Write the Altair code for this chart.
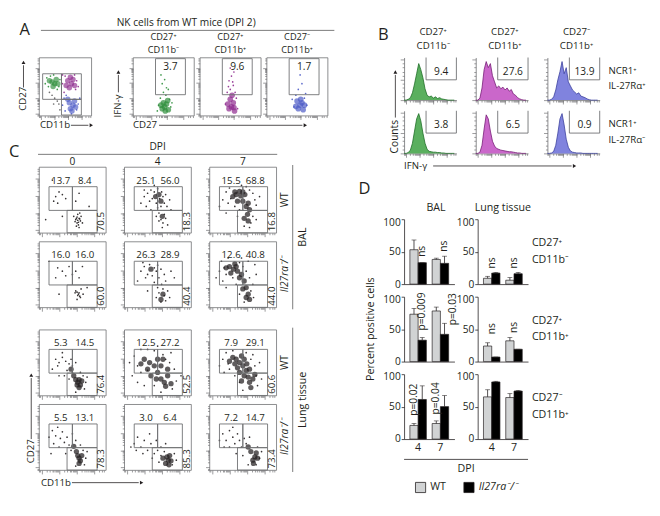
import altair as alt
import numpy as np
import pandas as pd

FONT = "Open Sans"
INK = "#231f20"
FRAME = "#6d6e71"

# ---------------- shared labels ----------------
SUBSET_TOP = ["CD27⁺", "CD27⁺", "CD27⁻"]
SUBSET_BOT = ["CD11b⁻", "CD11b⁺", "CD11b⁺"]
SUBSET_COLORS = ["#2f8f3c", "#8e2a8e", "#4d5bc6"]
SUBSET_FILLS = ["#48a64c", "#c457c4", "#7276da"]
SUBSET_LINES = ["#1d6b24", "#741b74", "#3a3f9c"]

# ---------------- Panel A ----------------
A_TITLE = "NK cells from WT mice (DPI 2)"
A_P1_GATES = [[7, 43, 28, 72], [43, 81, 28, 72], [43, 81, 1, 28]]
A_P1_CORES = [
    [(25, 58), (30, 55), (20, 60), (33, 62), (27, 50), (36, 55)],
    [(55, 60), (62, 55), (58, 48), (65, 62), (52, 52), (60, 66), (68, 52)],
    [(58, 22), (65, 18), (60, 12), (68, 25), (55, 28), (63, 8), (70, 15)],
]
A_P1_DOTS = [
    [(12, 55), (15, 65), (18, 50), (38, 50), (40, 62), (22, 68), (35, 45), (28, 70)],
    [(45, 70), (72, 60), (75, 50), (48, 40), (70, 45), (50, 68), (68, 70), (45, 55)],
    [(48, 30), (75, 20), (72, 10), (50, 8), (45, 18), (78, 30), (62, 3), (52, 35)],
]
A_P1_GREY = [(25, 35), (30, 30), (35, 25), (20, 40), (38, 20), (28, 20), (40, 10)]
A_IFN_GATE = [37, 86, 36, 98]
A_IFN_PCT = [3.7, 9.6, 1.7]
A_IFN_CORES = [
    [(52, 15), (55, 20), (48, 12), (58, 10), (50, 22), (53, 8), (46, 18), (57, 26)],
    [(52, 15), (55, 22), (48, 12), (57, 8), (50, 28), (53, 35), (46, 20), (56, 14)],
    [(55, 18), (58, 22), (52, 12), (60, 10), (56, 28), (50, 25), (48, 16), (62, 18)],
]
A_IFN_DOTS = [
    [(45, 30), (60, 28), (42, 18), (62, 15), (50, 40), (55, 48), (48, 55), (52, 62), (58, 45), (46, 70), (54, 35), (40, 8), (64, 22)],
    [(50, 45), (55, 52), (48, 60), (52, 68), (56, 75), (45, 40), (58, 40), (60, 30), (42, 20), (62, 12), (50, 82), (54, 58), (47, 50)],
    [(48, 35), (62, 30), (45, 15), (66, 18), (52, 45), (58, 55), (55, 70), (64, 38), (42, 28)],
]

# ---------------- Panel B ----------------
B_ROW_TOP = ["NCR1⁺", "NCR1⁺"]
B_ROW_BOT = ["IL-27Rα⁺", "IL-27Rα⁻"]
B_PCT = [[9.4, 27.6, 13.9], [3.8, 6.5, 0.9]]
B_BINS = [0, 4, 8, 12, 16, 20, 24, 28, 32, 36, 40, 44, 48, 52, 56, 60, 64, 68, 72, 76, 80, 84, 88, 92, 96]
B_COUNTS = [
    [
        [0, 0, 2, 6, 18, 40, 65, 90, 75, 55, 28, 12, 8, 10, 5, 8, 4, 6, 3, 2, 1, 0, 0, 0, 0],
        [0, 0, 5, 30, 75, 95, 80, 90, 60, 45, 30, 35, 28, 32, 25, 30, 22, 26, 15, 12, 6, 3, 1, 0, 0],
        [0, 0, 2, 8, 25, 50, 70, 95, 65, 80, 45, 35, 25, 20, 15, 18, 10, 8, 6, 3, 1, 0, 0, 0, 0],
    ],
    [
        [0, 0, 2, 8, 25, 55, 85, 98, 80, 50, 25, 10, 5, 4, 3, 3, 2, 2, 1, 1, 0, 0, 0, 0, 0],
        [0, 0, 3, 20, 60, 95, 85, 55, 30, 18, 12, 10, 8, 7, 6, 5, 4, 4, 3, 2, 1, 1, 0, 0, 0],
        [0, 0, 1, 5, 20, 50, 85, 98, 70, 35, 15, 6, 3, 2, 1, 1, 1, 0, 0, 0, 0, 0, 0, 0, 0],
    ],
]
B_GATE = [42, 100, 50]  # left edge, right edge, lower edge

# ---------------- Panel C ----------------
C_DPI = ["0", "4", "7"]
C_GENO = ["WT", "Il27ra⁻/⁻"]
C_TISSUE = ["BAL", "Lung tissue"]
C_GATES = [[15, 50, 34, 70], [50, 87, 34, 70], [42, 87, 0, 34]]
C_UL = [[13.7, 25.1, 15.5], [16.0, 26.3, 12.6], [5.3, 12.5, 7.9], [5.5, 3.0, 7.2]]
C_UR = [[8.4, 56.0, 68.8], [16.0, 28.9, 40.8], [14.5, 27.2, 29.1], [13.1, 6.4, 14.7]]
C_LR = [[70.5, 18.3, 16.8], [60.0, 40.4, 44.0], [76.4, 52.5, 60.6], [78.3, 85.3, 73.4]]
C_CORES = [
    [[],
     [(47, 55), (52, 58), (55, 48), (57, 25)],
     [(40, 58), (47, 56), (53, 58), (50, 48), (55, 40), (57, 28), (58, 18), (45, 63), (35, 55),
      (42, 48), (50, 62), (58, 45), (52, 22), (38, 62), (60, 35)]],
    [[],
     [(40, 58), (58, 20), (55, 12)],
     [(30, 62), (36, 58), (42, 55), (48, 50), (52, 40), (55, 30), (58, 20), (60, 12), (38, 66),
      (25, 60), (32, 52), (45, 45), (50, 28), (55, 15), (40, 62)]],
    [[(58, 20), (62, 16), (60, 12), (55, 24), (64, 22), (52, 30), (48, 40), (60, 24), (57, 16)],
     [(60, 20), (55, 25), (62, 14), (50, 35), (45, 45), (38, 50), (55, 45), (30, 55), (65, 30), (40, 30),
      (50, 55), (70, 18), (48, 25), (35, 40), (58, 55), (25, 48), (65, 40)],
     [(40, 55), (45, 50), (50, 45), (55, 38), (58, 28), (60, 20), (62, 12), (48, 60), (35, 58), (52, 30),
      (56, 48), (42, 42), (65, 25), (38, 48), (45, 35), (60, 40), (52, 55), (48, 22), (68, 32), (30, 52)]],
    [[(60, 18), (62, 14), (58, 22), (56, 28), (64, 22), (52, 36), (60, 10)],
     [(66, 15), (70, 14), (64, 20), (68, 22), (62, 10), (58, 18), (67, 8)],
     [(68, 20), (65, 15), (70, 26), (62, 28), (66, 10), (58, 35), (72, 18)]],
]
C_DOTS = [
    [[(25, 55), (30, 62), (22, 48), (35, 58), (40, 52), (28, 45), (55, 48), (60, 60), (52, 25), (55, 20), (57, 15), (60, 22), (58, 28), (62, 18), (56, 10), (63, 25), (59, 12), (54, 17), (61, 30), (65, 15), (57, 24), (60, 8), (10, 20), (35, 25), (75, 40), (20, 80), (58, 19), (61, 21), (56, 22), (59, 16)],
     [(30, 55), (35, 60), (40, 65), (38, 48), (42, 52), (45, 62), (48, 45), (50, 67), (53, 52), (56, 62), (58, 55), (60, 45), (62, 58), (55, 40), (50, 38), (52, 30), (55, 20), (58, 15), (60, 28), (62, 22), (65, 12), (57, 8), (52, 18), (48, 25), (25, 45), (33, 40), (68, 50), (70, 35), (45, 72), (40, 35), (30, 65), (64, 40)],
     [(20, 50), (25, 62), (28, 45), (30, 68), (32, 52), (65, 60), (68, 50), (70, 42), (62, 15), (65, 25), (52, 10), (60, 8), (45, 35), (38, 40), (48, 72), (55, 70), (25, 30), (42, 25), (70, 20), (75, 55), (15, 40), (60, 65)]],
    [[(28, 60), (35, 55), (40, 48), (25, 45), (45, 62), (55, 55), (60, 45), (65, 62), (50, 50), (55, 25), (58, 18), (60, 22), (62, 15), (57, 12), (63, 28), (59, 20), (66, 20), (54, 22), (30, 20), (72, 30), (15, 70), (61, 17), (57, 23)],
     [(25, 55), (30, 62), (35, 50), (38, 65), (42, 48), (45, 60), (48, 55), (50, 64), (52, 45), (32, 45), (28, 68), (55, 58), (60, 50), (62, 40), (56, 35), (58, 28), (60, 18), (62, 10), (55, 8), (52, 22), (65, 25), (68, 15), (50, 30), (45, 38), (70, 55), (20, 40), (35, 25), (75, 45), (48, 15)],
     [(15, 55), (18, 70), (22, 60), (25, 50), (20, 40), (28, 75), (45, 68), (50, 62), (55, 55), (60, 45), (65, 35), (62, 25), (66, 15), (52, 8), (45, 20), (40, 35), (35, 45), (70, 50), (25, 30), (68, 65), (48, 75), (10, 45), (58, 70)]],
    [[(25, 55), (30, 50), (35, 58), (28, 45), (40, 52), (45, 48), (42, 38), (38, 30), (50, 45), (55, 50), (50, 35), (45, 25), (66, 30), (70, 20), (68, 10), (55, 5), (62, 35), (30, 30), (20, 40), (35, 65), (72, 28), (48, 55)],
     [(15, 60), (20, 45), (12, 30), (20, 20), (25, 70), (35, 70), (45, 68), (58, 62), (68, 50), (75, 40), (78, 22), (72, 10), (55, 5), (45, 15), (30, 15), (25, 35), (35, 38), (70, 65), (85, 30), (8, 50), (50, 75), (62, 55)],
     [(20, 55), (25, 65), (28, 48), (30, 40), (35, 68), (55, 65), (62, 55), (68, 45), (70, 30), (72, 15), (50, 8), (45, 20), (38, 30), (75, 50), (22, 35), (65, 62), (15, 45), (78, 25)]],
    [[(20, 60), (25, 52), (28, 65), (32, 48), (35, 58), (38, 42), (42, 50), (45, 38), (48, 30), (30, 35), (22, 40), (55, 45), (50, 55), (66, 30), (70, 18), (68, 8), (55, 6), (62, 38), (18, 25), (40, 25), (72, 28), (15, 50)],
     [(15, 40), (20, 50), (25, 35), (30, 45), (35, 30), (40, 40), (45, 25), (50, 30), (55, 22), (28, 25), (18, 30), (38, 55), (48, 45), (55, 35), (72, 8), (75, 25), (60, 28), (52, 12), (10, 35), (42, 18), (62, 40), (78, 15)],
     [(20, 55), (25, 45), (30, 60), (35, 50), (38, 40), (42, 55), (45, 45), (48, 35), (52, 48), (55, 40), (30, 35), (22, 35), (60, 50), (72, 35), (75, 18), (70, 8), (58, 8), (40, 25), (50, 22), (15, 45), (78, 28), (35, 65)]],
]

# ---------------- Panel D ----------------
D_DPI = ["4", "7"]
D_GENO = ["WT", "Il27ra⁻/⁻"]
D_FILLS = ["#d1d3d4", "#000000"]
D_TISSUE = ["BAL", "Lung tissue"]
D_WT = [[[53, 38], [9, 6]], [[73, 78], [24, 32]], [[21, 24], [65, 64]]]
D_WT_ERR = [[[68, 40], [12, 10]], [[82, 84], [29, 37]], [[24, 28], [76, 70]]]
D_KO = [[[33, 32], [17, 16]], [[33, 42], [7, 19]], [[61, 50], [88, 74]]]
D_KO_ERR = [[[33, 43], [18, 18]], [[37, 59], [7, 19]], [[82, 67], [89, 75]]]
D_NOTES = [
    [[("4", "KO", 42, "ns"), ("7", "KO", 50, "ns")], [("4", "mid", 24, "ns"), ("7", "mid", 24, "ns")]],
    [[("4", "KO", 48, "p=0.009"), ("7", "right", 56, "p=0.03")], [("4", "mid", 42, "ns"), ("7", "mid", 44, "ns")]],
    [[("4", "WT", 36, "p=0.02"), ("7", "WT", 38, "p=0.04")], []],
]

# ---------------- helpers ----------------
DUMMY = pd.DataFrame({"k": [0]})
FRAME_VIEW = alt.ViewBackground(stroke=FRAME, strokeWidth=0.8)
NO_VIEW = alt.ViewBackground(stroke=None)

FLOW_MAJOR = [4, 30, 56, 82]
FLOW_TICKS = sorted(set([0.0, 2.0] + [round(m + 26 * np.log10(k), 1)
                                      for m in FLOW_MAJOR for k in range(1, 10)
                                      if m + 26 * np.log10(k) <= 100]))
FLOW_TEST = "indexof([4, 30, 56, 82], datum.value) >= 0"
FLOW_SCALE = alt.Scale(domain=[0, 100], nice=False, zero=False)
FLOW_AXIS = alt.Axis(values=FLOW_TICKS, labels=False, title=None, grid=False, domain=False,
                     tickColor=FRAME, tickWidth=0.7,
                     tickSize={"condition": {"test": FLOW_TEST, "value": 4}, "value": 2})


def fx(f):
    return alt.X(f"{f}:Q", scale=FLOW_SCALE, axis=FLOW_AXIS)


def fy(f):
    return alt.Y(f"{f}:Q", scale=FLOW_SCALE, axis=FLOW_AXIS)


def txt(text, x, y, size=10, angle=None, align="center", baseline="middle",
        style="normal", color=INK):
    kw = dict(text=text, font=FONT, fontSize=size, color=color, align=align,
              baseline=baseline, fontStyle=style)
    if angle is not None:
        kw["angle"] = angle
    return alt.Chart(DUMMY).mark_text(**kw).encode(x=alt.value(x), y=alt.value(y))


def hline(x1, x2, y, color=INK, w=0.8):
    return alt.Chart(DUMMY).mark_rule(color=color, strokeWidth=w).encode(
        x=alt.value(x1), x2=alt.value(x2), y=alt.value(y))


def vline(x, y1, y2, color=INK, w=0.8):
    return alt.Chart(DUMMY).mark_rule(color=color, strokeWidth=w).encode(
        x=alt.value(x), y=alt.value(y1), y2=alt.value(y2))


def tri(x, y, shape):
    return alt.Chart(DUMMY).mark_point(shape=shape, filled=True, size=16, color=INK, opacity=1).encode(
        x=alt.value(x), y=alt.value(y))


def arrow_right(x1, x2, y):
    return [hline(x1, x2 - 3, y), tri(x2, y, "triangle-right")]


def arrow_up(x, y1, y2):
    return [vline(x, y1, y2 + 3), tri(x, y2, "triangle-up")]


def anchor(x1, y1, x2, y2):
    # invisible panel frame: fixes each panel's extent for the concat layout
    return alt.Chart(DUMMY).mark_rect(fillOpacity=0, strokeOpacity=0, strokeWidth=0).encode(
        x=alt.value(x1), x2=alt.value(x2), y=alt.value(y1), y2=alt.value(y2))


def spacer(w, h):
    return alt.Chart(DUMMY).mark_point(opacity=0).encode(
        x=alt.value(0), y=alt.value(0)).properties(width=w, height=h, view=NO_VIEW)


def cloud(pts, color, size, opacity):
    df = pd.DataFrame(pts, columns=["x", "y"])
    return alt.Chart(df).mark_circle(size=size, opacity=opacity, color=color).encode(
        x=fx("x"), y=fy("y"))


def gates(g):
    df = pd.DataFrame(g, columns=["x1", "x2", "y1", "y2"])
    return alt.Chart(df).mark_rect(fillOpacity=0, stroke=FRAME, strokeWidth=0.9).encode(
        x=fx("x1"), x2="x2", y=fy("y1"), y2="y2")


def numbers(df, size=10, **kw):
    return alt.Chart(df).mark_text(font=FONT, fontSize=size, color=INK, **kw).encode(
        x=fx("x"), y=fy("y"), text="t:N")


# ---------------- Panel A ----------------
AW1, AW, AH = 54, 63, 60


def a_p1():
    L = []
    for k in range(3):
        L.append(cloud(A_P1_CORES[k], SUBSET_COLORS[k], 32, 0.65))
    L.append(cloud(A_P1_GREY, "#4d4d4d", 3, 0.8))
    for k in range(3):
        L.append(cloud(A_P1_DOTS[k], SUBSET_COLORS[k], 3, 0.9))
    L.append(gates(A_P1_GATES))
    L += [txt("A", -20, -28, size=17, align="left"),
          txt(A_TITLE, 152, -36, size=10.5), hline(2, 305, -28, color="#555555")]
    L += [txt("CD27", -16, 55, angle=270, align="left")] + arrow_up(-16, 31, 5)
    L += [txt("CD11b", 1, 70, align="left")] + arrow_right(33, 54, 70)
    L.append(anchor(-20, -42, 310, 76))
    return alt.layer(*L).properties(width=AW1, height=AH, view=FRAME_VIEW)


def a_ifn(k):
    g = A_IFN_GATE
    L = [cloud(A_IFN_CORES[k], SUBSET_COLORS[k], 34, 0.7),
         cloud(A_IFN_DOTS[k], SUBSET_COLORS[k], 3, 0.9), gates([g])]
    ndf = pd.DataFrame({"x": [(g[0] + g[1]) / 2], "y": [g[3]], "t": [f"{A_IFN_PCT[k]:.1f}"]})
    L.append(numbers(ndf, size=10.5, baseline="top", dy=4))
    L += [txt(SUBSET_TOP[k], AW / 2, -21, size=9.5), txt(SUBSET_BOT[k], AW / 2, -8, size=9.5)]
    if k == 0:
        L += [txt("IFN-γ", -15, 62, angle=270, align="left")] + arrow_up(-15, 36, 15)
        L += [txt("CD27", 0, 70, align="left")] + arrow_right(27, 178, 70)
    return alt.layer(*L).properties(width=AW, height=AH, view=FRAME_VIEW)


panel_a = alt.hconcat(a_p1(), spacer(31, AH), a_ifn(0), a_ifn(1), a_ifn(2),
                      spacing=6, bounds="flush")

# ---------------- Panel C ----------------
CW, CH, CRS, CCS = 69, 68, 9, 19


def c_cell(r, c):
    ul, ur, lr = C_GATES
    L = []
    if C_CORES[r][c]:
        L.append(cloud(C_CORES[r][c], INK, 30, 0.72))
    L.append(cloud(C_DOTS[r][c], INK, 3, 0.9))
    L.append(gates(C_GATES))
    top = pd.DataFrame({"x": [(ul[0] + ul[1]) / 2, (ur[0] + ur[1]) / 2], "y": [ul[3], ur[3]],
                        "t": [f"{C_UL[r][c]:.1f}", f"{C_UR[r][c]:.1f}"]})
    L.append(numbers(top, baseline="bottom", dy=-1))
    side = pd.DataFrame({"x": [(lr[1] + 100) / 2], "y": [(lr[2] + lr[3]) / 2], "t": [f"{C_LR[r][c]:.1f}"]})
    L.append(numbers(side, angle=270, align="center", baseline="middle"))
    if r == 0:
        L.append(txt(C_DPI[c], CW / 2, -5, size=10.5))
        if c == 0:
            L += [txt("C", -31, -15, size=17, align="left"),
                  hline(-1, 3 * CW + 2 * CCS + 1, -13, color="#555555"),
                  anchor(-31, -25, 299, 331)]
        if c == 1:
            L.append(txt("DPI", CW / 2, -20, size=10.5))
    if c == 2:
        geno = C_GENO[r % 2]
        L.append(txt(geno, CW + 9, CH / 2, size=10.5, angle=270,
                     style="italic" if r % 2 else "normal"))
        if r % 2 == 0:
            L += [vline(CW + 17, -2, 2 * CH + CRS + 2, color="#555555"),
                  txt(C_TISSUE[r // 2], CW + 28, CH + CRS / 2, size=11, angle=270)]
    if r == 3 and c == 0:
        L += [txt("CD27", -8, CH - 7, angle=270, align="left")] + arrow_up(-8, 36, -30)
        L += [txt("CD11b", 2, CH + 13, align="left")] + arrow_right(34, 106, CH + 13)
    return alt.layer(*L).properties(width=CW, height=CH, view=FRAME_VIEW)


c_cells = [c_cell(0, c) for c in range(3)] + [c_cell(1, c) for c in range(3)]
c_cells += [spacer(CW, 5) for _ in range(3)]
c_cells += [c_cell(2, c) for c in range(3)] + [c_cell(3, c) for c in range(3)]
panel_c = alt.concat(*c_cells, columns=3, spacing={"row": CRS, "column": CCS}, bounds="flush")

# ---------------- Panel B ----------------
BW, BH, BCS = 54, 44, 20
B_XSCALE = alt.Scale(domain=[0, 100], nice=False, zero=False)
B_YSCALE = alt.Scale(domain=[0, 105], nice=False)
B_XAXIS = alt.Axis(values=FLOW_TICKS, labels=False, title=None, grid=False,
                   domainColor=FRAME, domainWidth=0.8, tickColor=FRAME, tickWidth=0.7,
                   tickSize={"condition": {"test": FLOW_TEST, "value": 4}, "value": 2})
B_YAXIS = alt.Axis(values=[0, 10, 20, 30, 40, 50, 60, 70, 80, 90, 100], labels=False, title=None,
                   grid=False, domainColor=FRAME, domainWidth=0.8, tickColor=FRAME, tickWidth=0.7,
                   tickSize={"condition": {"test": "datum.value % 50 === 0", "value": 4}, "value": 2})


def b_cell(r, c):
    X = lambda f: alt.X(f"{f}:Q", scale=B_XSCALE, axis=B_XAXIS)
    Y = lambda f: alt.Y(f"{f}:Q", scale=B_YSCALE, axis=B_YAXIS)
    df = pd.DataFrame({"x": B_BINS, "n": B_COUNTS[r][c]})
    area = alt.Chart(df).mark_area(
        color=SUBSET_FILLS[c], opacity=0.9,
        line=alt.OverlayMarkDef(color=SUBSET_LINES[c], strokeWidth=0.8)).encode(x=X("x"), y=Y("n"))
    gx1, gx2, gy = B_GATE
    vdf = pd.DataFrame({"x": [gx1, gx2], "n": [gy, gy], "n2": [105, 105]})
    vr = alt.Chart(vdf).mark_rule(color=FRAME, strokeWidth=0.9).encode(x=X("x"), y=Y("n"), y2="n2")
    hdf = pd.DataFrame({"x": [gx1], "x2": [gx2], "n": [gy]})
    hr = alt.Chart(hdf).mark_rule(color=FRAME, strokeWidth=0.9).encode(x=X("x"), x2="x2", y=Y("n"))
    ndf = pd.DataFrame({"x": [(gx1 + gx2) / 2], "n": [gy], "t": [f"{B_PCT[r][c]:.1f}"]})
    num = alt.Chart(ndf).mark_text(font=FONT, fontSize=10.5, color=INK, baseline="middle", dy=-8).encode(
        x=X("x"), y=Y("n"), text="t:N")
    L = [area, vr, hr, num]
    if r == 0:
        L += [txt(SUBSET_TOP[c], BW / 2 + 3, -26), txt(SUBSET_BOT[c], BW / 2 + 3, -12)]
        if c == 0:
            L += [txt("B", -27, -23, size=17, align="left"), anchor(-30, -31, 256, 117)]
    if c == 2:
        L += [txt(B_ROW_TOP[r], BW + 9, BH / 2 - 8, size=10, align="left"),
              txt(B_ROW_BOT[r], BW + 9, BH / 2 + 8, size=10, align="left")]
    if r == 1 and c == 0:
        L += [txt("Counts", -9, BH, size=10.5, angle=270, align="left")] + arrow_up(-9, BH - 37, -40)
        L += [txt("IFN-γ", 0, BH + 13, align="left")] + arrow_right(30, 176, BH + 13)
    return alt.layer(*L).properties(width=BW, height=BH, view=NO_VIEW)


panel_b = alt.concat(*[b_cell(r, c) for r in range(2) for c in range(3)], columns=3,
                     spacing={"row": 11, "column": BCS}, bounds="flush")

# ---------------- Panel D ----------------
DW, DH, DRS = 52, 67, 13
D_YSCALE = alt.Scale(domain=[0, 100], nice=False)
D_YAXIS = alt.Axis(values=[0, 50, 100], title=None, grid=False, labelFont=FONT, labelFontSize=10.5,
                   labelColor=INK, tickColor=INK, domainColor=INK, tickSize=3, tickWidth=0.8,
                   domainWidth=0.8, labelPadding=1,
                   labelOffset={"condition": {"test": "datum.value === 100", "value": 3}, "value": 0})


def d_cell(r, t):
    rows = []
    for i, d in enumerate(D_DPI):
        rows.append({"dpi": d, "geno": D_GENO[0], "val": D_WT[r][t][i], "err": D_WT_ERR[r][t][i]})
        rows.append({"dpi": d, "geno": D_GENO[1], "val": D_KO[r][t][i], "err": D_KO_ERR[r][t][i]})
    df = pd.DataFrame(rows)
    xaxis = alt.Axis(title=None, ticks=False, labels=(r == 2), labelAngle=0, labelFont=FONT,
                     labelFontSize=11, labelColor=INK, domainColor=INK, domainWidth=0.8, labelPadding=3)
    X = alt.X("dpi:N", scale=alt.Scale(domain=D_DPI, paddingInner=0.26, paddingOuter=0.26), axis=xaxis)
    XO = alt.XOffset("geno:N", scale=alt.Scale(domain=D_GENO, paddingInner=0, paddingOuter=0))
    Y = lambda f: alt.Y(f"{f}:Q", scale=D_YSCALE, axis=D_YAXIS)
    fill = alt.Fill("geno:N", scale=alt.Scale(domain=D_GENO, range=D_FILLS), legend=None)
    bars = alt.Chart(df).mark_bar(stroke=INK, strokeWidth=0.7).encode(x=X, xOffset=XO, y=Y("val"), fill=fill)
    err = alt.Chart(df).mark_rule(color=INK, strokeWidth=0.8).encode(x=X, xOffset=XO, y=Y("val"), y2="err")
    cap = alt.Chart(df).mark_tick(color=INK, thickness=0.8, size=5).encode(x=X, xOffset=XO, y=Y("err"))
    L = [bars, err, cap]
    notes = D_NOTES[r][t]
    if notes:
        ndf = pd.DataFrame(notes, columns=["dpi", "slot", "y", "t"])
        ndf["geno"] = [D_GENO[0] if s == "WT" else D_GENO[1] for s in ndf["slot"]]
        base = dict(angle=270, align="left", baseline="middle", font=FONT, fontSize=10.5, color=INK)
        on = ndf[ndf["slot"].isin(["WT", "KO"])]
        mid = ndf[ndf["slot"] == "mid"]
        side = ndf[ndf["slot"] == "right"]
        if len(on):
            L.append(alt.Chart(on).mark_text(**base).encode(x=X, xOffset=XO, y=Y("y"), text="t:N"))
        if len(mid):
            L.append(alt.Chart(mid).mark_text(**base).encode(x=X, y=Y("y"), text="t:N"))
        if len(side):
            L.append(alt.Chart(side).mark_text(dy=9, **base).encode(x=X, xOffset=XO, y=Y("y"), text="t:N"))
    if r == 0:
        if t == 0:
            L += [txt("D", -47, -31, size=17, align="left"), txt("BAL", DW / 2 + 7, -12, size=11),
                  anchor(-52, -42, 234, 288)]
        else:
            L.append(txt("Lung tissue", DW / 2, -12, size=11))
    if t == 1:
        L += [txt(SUBSET_TOP[r], DW + 4, DH / 2 - 8.5, size=11, align="left"),
              txt(SUBSET_BOT[r], DW + 4, DH / 2 + 8.5, size=11, align="left")]
    if r == 1 and t == 0:
        L.append(txt("Percent positive cells", -34, DH / 2, size=11, angle=270))
    if r == 2 and t == 0:
        L += [hline(0, 2 * DW + DRS + 11, DH + 21), txt("DPI", DW + 12, DH + 31, size=11)]
        for i, g in enumerate(D_GENO):
            L.append(alt.Chart(DUMMY).mark_square(size=110, fill=D_FILLS[i], stroke=INK,
                                                 strokeWidth=0.8, opacity=1).encode(
                x=alt.value(17 + 50 * i), y=alt.value(DH + 50)))
            L.append(txt(g, 27 + 50 * i, DH + 50, size=11, align="left",
                         style="italic" if i else "normal"))
    return alt.layer(*L).properties(width=DW, height=DH, view=NO_VIEW)


panel_d = alt.concat(*[d_cell(r, t) for r in range(3) for t in range(2)], columns=2,
                     spacing={"row": DRS, "column": 24}, bounds="flush")

# ---------------- assemble ----------------
left = alt.vconcat(panel_a, panel_c, spacing=10)
right = alt.vconcat(panel_b, panel_d, spacing=8)
chart = (alt.hconcat(left, right, spacing=14)
         .properties(padding=0)
         .configure_view(stroke=None)
         .configure(font=FONT, padding=0))

chart.save("out.html", embed_options={"renderer": "svg", "actions": False})
